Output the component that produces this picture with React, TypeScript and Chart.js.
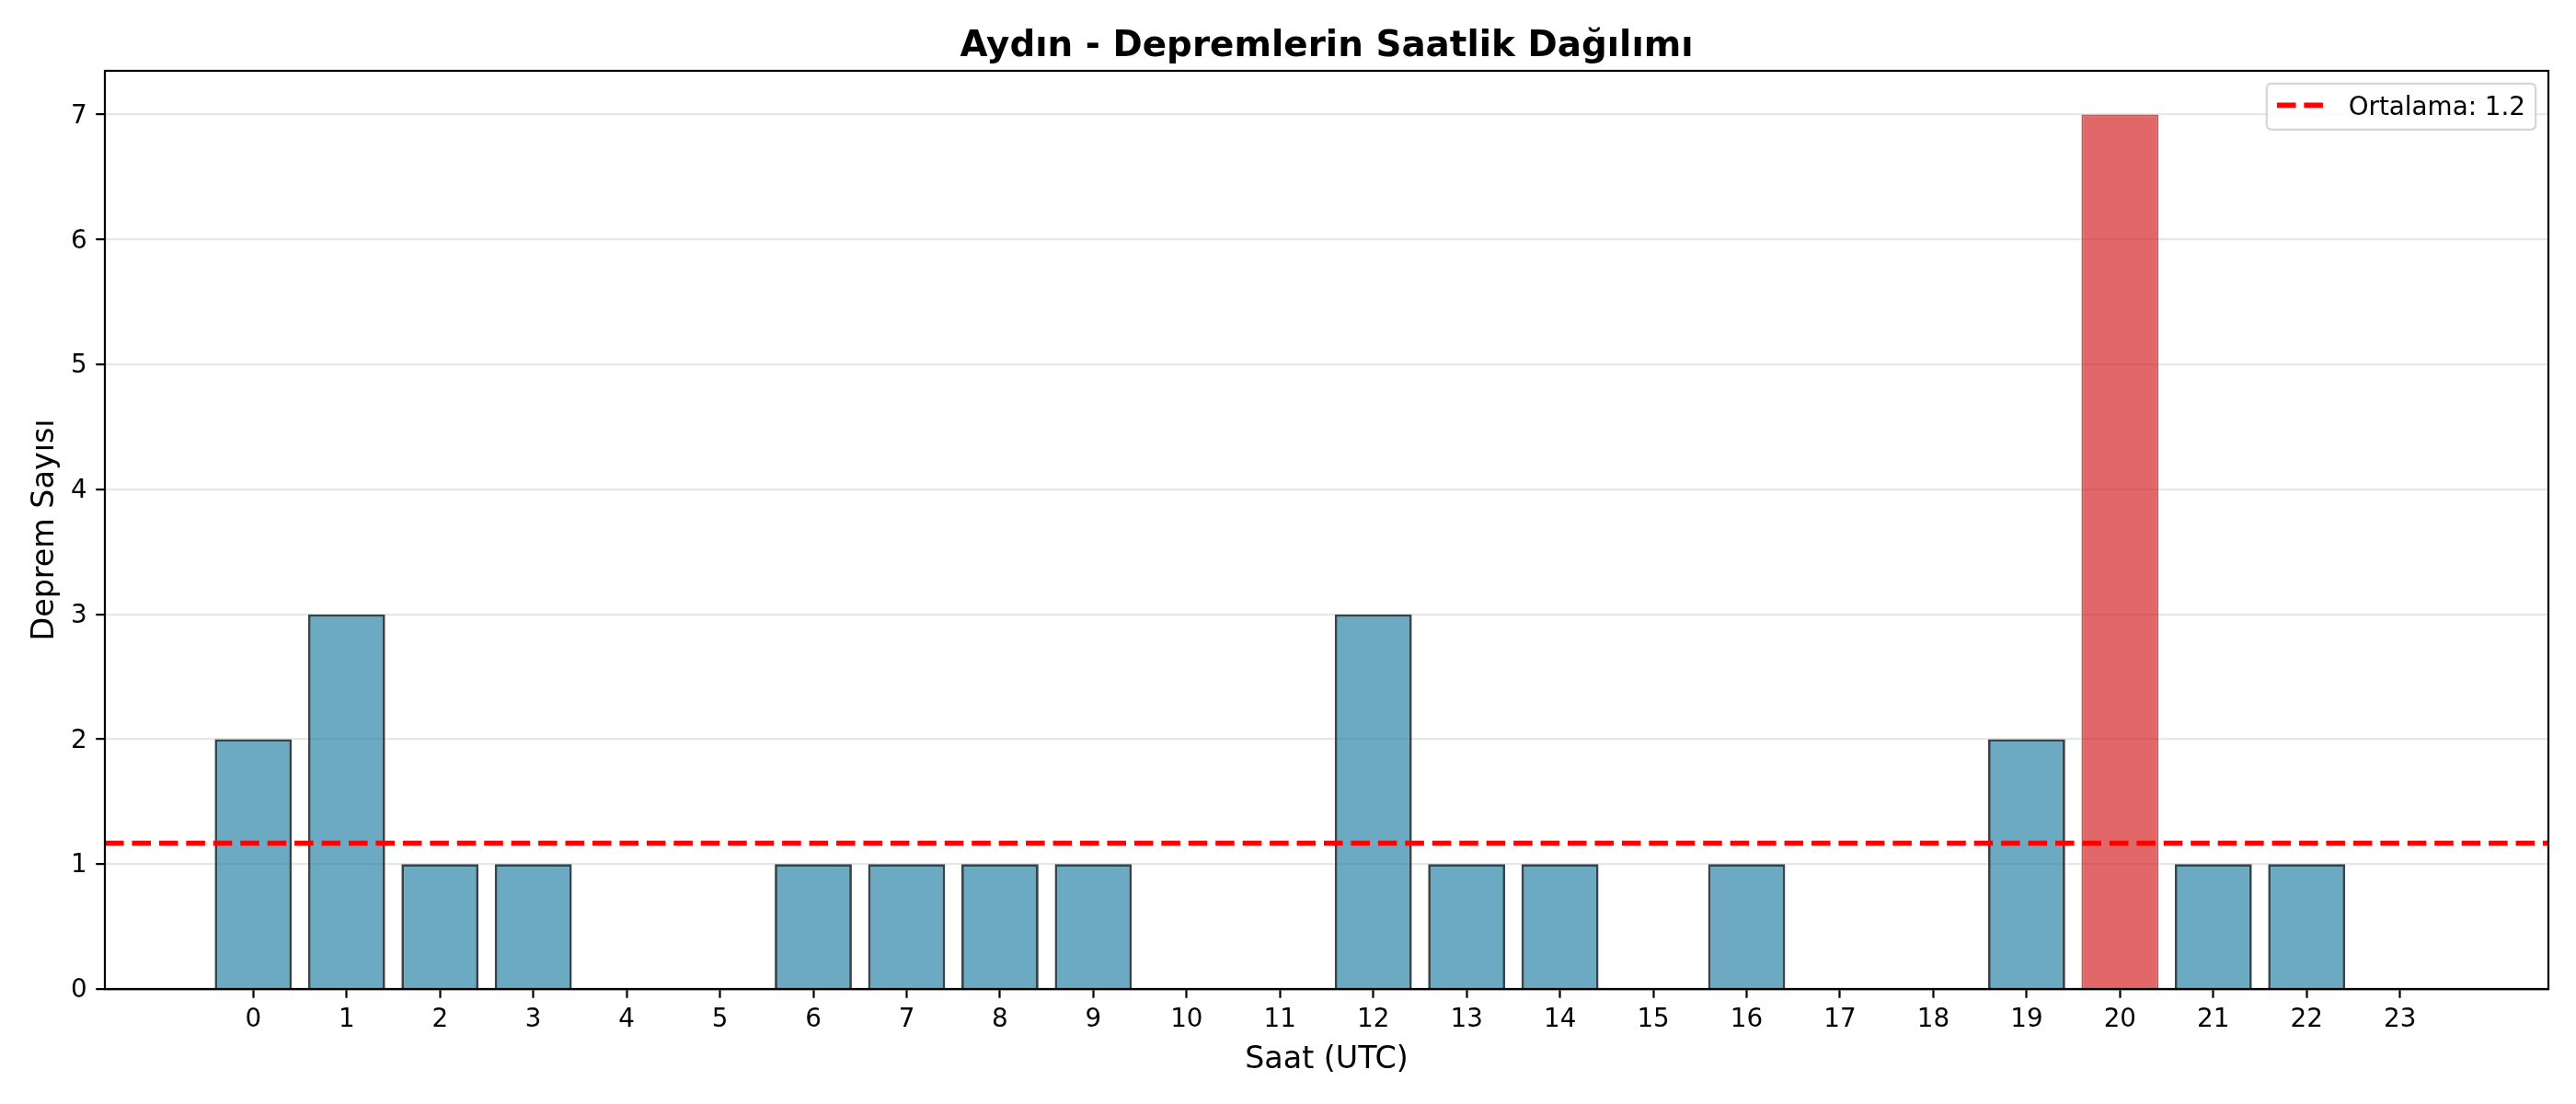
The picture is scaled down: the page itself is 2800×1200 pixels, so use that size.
import React, { useEffect, useRef } from "react";
import { Chart, registerables } from "chart.js";

Chart.register(...registerables);

// ---- data ----
const hours = [0, 1, 2, 3, 4, 5, 6, 7, 8, 9, 10, 11, 12, 13, 14, 15, 16, 17, 18, 19, 20, 21, 22, 23];
const counts = [2, 3, 1, 1, 0, 0, 1, 1, 1, 1, 0, 0, 3, 1, 1, 0, 1, 0, 0, 2, 7, 1, 1, 0];
const yTickValues = [0, 1, 2, 3, 4, 5, 6, 7];
const titleText = "Aydın - Depremlerin Saatlik Dağılımı";
const xAxisLabel = "Saat (UTC)";
const yAxisLabel = "Deprem Sayısı";
const meanLabelPrefix = "Ortalama: ";

const FONT = '"DejaVu Sans", "Noto Sans", sans-serif';
const PT = 200 / 72; // matplotlib points -> px at 200 dpi

export default function App() {
  const canvasRef = useRef<HTMLCanvasElement | null>(null);

  useEffect(() => {
    document.body.style.margin = "0";
    const canvas = canvasRef.current;
    if (!canvas) return;

    const mean = counts.reduce((a, b) => a + b, 0) / counts.length;
    const meanLabel = meanLabelPrefix + mean.toFixed(1);
    const maxCount = Math.max(...counts);
    const maxIdx = counts.indexOf(maxCount);

    const lo = hours[0] - 0.4;
    const hi = hours[hours.length - 1] + 0.4;
    const marg = 0.05 * (hi - lo);
    const xMin = lo - marg;
    const xMax = hi + marg;
    const yMax = maxCount * 1.05;

    const barFill = counts.map((_, i) => (i === maxIdx ? "rgba(214,39,40,0.7)" : "rgba(46,134,171,0.7)"));
    const barEdge = counts.map((_, i) => (i === maxIdx ? "rgba(210,45,48,0.85)" : "#37444a"));
    const barEdgeW = counts.map((_, i) => (i === maxIdx ? 1.8 : 2.8));

    const framePlugin = {
      id: "frameAndLegend",
      afterDraw(chart: any) {
        const { ctx, chartArea: a } = chart;
        ctx.save();
        // axes frame (spines)
        ctx.strokeStyle = "#000";
        ctx.lineWidth = 0.8 * PT;
        ctx.setLineDash([]);
        ctx.strokeRect(a.left, a.top, a.right - a.left, a.bottom - a.top);

        // legend
        const fs = 10 * PT;
        ctx.font = `${fs}px ${FONT}`;
        const tw = ctx.measureText(meanLabel).width;
        const borderPad = 0.4 * fs;
        const handleLen = 2.0 * fs;
        const handlePad = 0.8 * fs;
        const boxW = borderPad + handleLen + handlePad + tw + borderPad;
        const boxH = 50;
        const boxRight = a.right - 0.5 * fs;
        const boxLeft = boxRight - boxW;
        const boxTop = a.top + 0.5 * fs;
        const r = 0.2 * fs;
        ctx.beginPath();
        ctx.moveTo(boxLeft + r, boxTop);
        ctx.lineTo(boxLeft + boxW - r, boxTop);
        ctx.quadraticCurveTo(boxLeft + boxW, boxTop, boxLeft + boxW, boxTop + r);
        ctx.lineTo(boxLeft + boxW, boxTop + boxH - r);
        ctx.quadraticCurveTo(boxLeft + boxW, boxTop + boxH, boxLeft + boxW - r, boxTop + boxH);
        ctx.lineTo(boxLeft + r, boxTop + boxH);
        ctx.quadraticCurveTo(boxLeft, boxTop + boxH, boxLeft, boxTop + boxH - r);
        ctx.lineTo(boxLeft, boxTop + r);
        ctx.quadraticCurveTo(boxLeft, boxTop, boxLeft + r, boxTop);
        ctx.closePath();
        ctx.fillStyle = "rgba(255,255,255,0.8)";
        ctx.fill();
        ctx.strokeStyle = "rgba(204,204,204,0.8)";
        ctx.lineWidth = 0.8 * PT;
        ctx.stroke();

        const hy = boxTop + boxH / 2 - 1.5;
        const hx = boxLeft + borderPad;
        ctx.beginPath();
        ctx.strokeStyle = "#ff0000";
        ctx.lineWidth = 2 * PT;
        ctx.setLineDash([3.7 * 2 * PT, 1.6 * 2 * PT]);
        ctx.moveTo(hx, hy);
        ctx.lineTo(hx + handleLen, hy);
        ctx.stroke();
        ctx.setLineDash([]);

        ctx.fillStyle = "#000";
        ctx.textAlign = "left";
        ctx.textBaseline = "alphabetic";
        ctx.fillText(meanLabel, hx + handleLen + handlePad, boxTop + 34);
        ctx.restore();
      },
    };

    const chart = new Chart(canvas, {
      type: "bar",
      data: {
        datasets: [
          {
            type: "line",
            label: meanLabel,
            data: [
              { x: xMin, y: mean },
              { x: xMax, y: mean },
            ],
            borderColor: "#ff0000",
            borderWidth: 2 * PT,
            borderDash: [3.7 * 2 * PT, 1.6 * 2 * PT],
            pointRadius: 0,
            fill: false,
            order: 0,
          } as any,
          {
            type: "bar",
            label: "counts",
            data: hours.map((h, i) => ({ x: h, y: counts[i] })),
            backgroundColor: barFill,
            borderColor: barEdge,
            borderWidth: barEdgeW,
            borderSkipped: "start",
            barPercentage: 0.826,
            categoryPercentage: 1,
            order: 1,
          } as any,
        ],
      },
      options: {
        animation: false,
        responsive: false,
        devicePixelRatio: 1,
        layout: { padding: { left: 0, right: 30, top: 0, bottom: 0 } },
        plugins: {
          legend: { display: false },
          tooltip: { enabled: false },
          title: {
            display: true,
            text: titleText,
            fullSize: false,
            color: "#000",
            font: { family: FONT, size: 14 * PT, weight: "bold", lineHeight: 1 },
            padding: { top: 31.5, bottom: 77 - 31.5 - 14 * PT },
          },
        },
        scales: {
          x: {
            type: "linear",
            min: xMin,
            max: xMax,
            offset: false,
            afterBuildTicks: (scale: any) => {
              scale.ticks = hours.map((v) => ({ value: v }));
            },
            afterFit: (scale: any) => {
              scale.height = 1200 - 1075;
            },
            grid: {
              display: true,
              offset: false,
              drawOnChartArea: false,
              drawTicks: true,
              tickLength: 3.5 * PT,
              tickColor: "#000",
              tickWidth: 0.8 * PT,
            },
            border: { display: true, color: "#000", width: 0.8 * PT },
            ticks: {
              color: "#000",
              padding: 3.5 * PT,
              autoSkip: false,
              maxRotation: 0,
              font: { family: FONT, size: 10 * PT, lineHeight: 1 },
              callback: (v: any) => String(v),
            },
            title: {
              display: true,
              text: xAxisLabel,
              color: "#000",
              font: { family: FONT, size: 12 * PT, lineHeight: 1 },
              padding: { top: 0, bottom: 1200 - 1152 - 6 * PT },
            },
          },
          y: {
            type: "linear",
            min: 0,
            max: yMax,
            z: 1,
            afterBuildTicks: (scale: any) => {
              scale.ticks = yTickValues.map((v) => ({ value: v }));
            },
            afterFit: (scale: any) => {
              scale.width = 114;
            },
            grid: {
              display: true,
              drawOnChartArea: true,
              color: "rgba(176,176,176,0.3)",
              lineWidth: 0.8 * PT,
              drawTicks: true,
              tickLength: 3.5 * PT,
              tickColor: "#000",
              tickWidth: 0.8 * PT,
            },
            border: { display: false },
            ticks: {
              color: "#000",
              padding: 3.5 * PT,
              labelOffset: 2,
              font: { family: FONT, size: 10 * PT, lineHeight: 1 },
              callback: (v: any) => String(v),
            },
            title: {
              display: true,
              text: yAxisLabel,
              color: "#000",
              font: { family: FONT, size: 12 * PT, lineHeight: 1 },
              padding: { top: 49.5 - 6 * PT, bottom: 0 },
            },
          },
        },
      },
      plugins: [framePlugin],
    });

    return () => {
      chart.destroy();
    };
  }, []);

  return (
    <div style={{ width: 2800, height: 1200 }}>
      <canvas ref={canvasRef} width={2800} height={1200} style={{ display: "block" }} />
    </div>
  );
}
